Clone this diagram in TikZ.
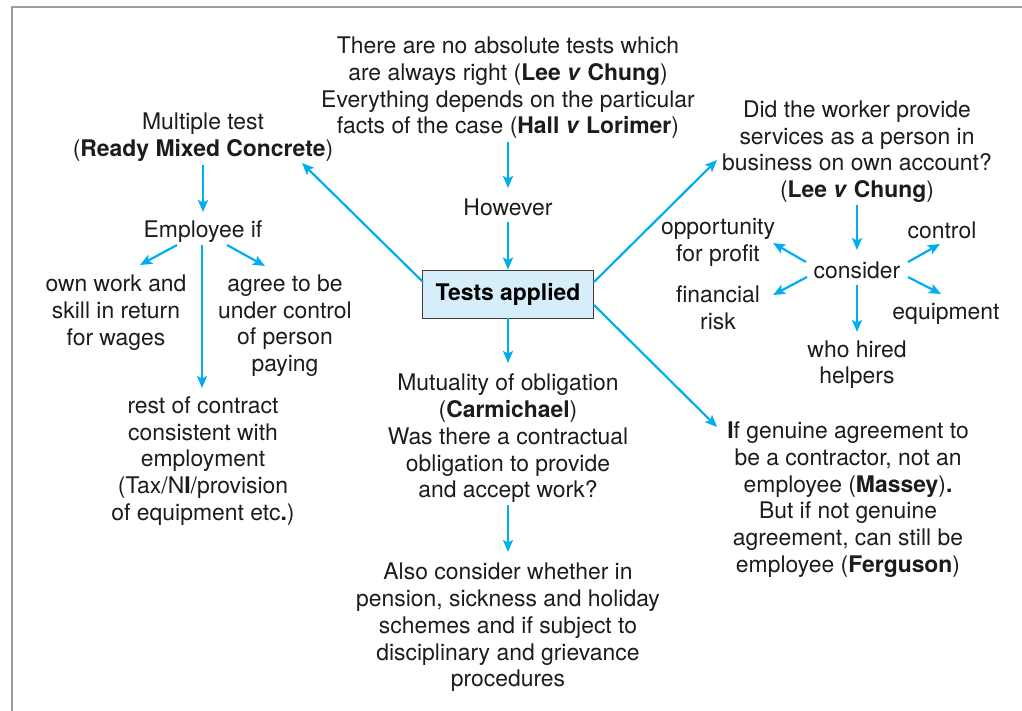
\documentclass[tikz,border=0pt]{standalone}
\usepackage{fontspec}
\setmainfont{TeX Gyre Heros}
\usetikzlibrary{arrows.meta,calc}
\definecolor{arr}{HTML}{00AEEF}
\definecolor{txt}{HTML}{1E1B1C}
\definecolor{boxfill}{HTML}{D6EEF9}
\definecolor{framegray}{HTML}{9D9D9D}
\newcommand{\casename}[1]{\textbf{#1}}
\begin{document}
\begin{tikzpicture}[x=1pt,y=-1pt,
  lbl/.style={align=center,text=txt,inner sep=0pt,font=\fontsize{22.9}{26.7}\selectfont},
  conn/.style={draw=arr,line width=2.2pt,-{Stealth[length=12pt,width=10pt,inset=2.5pt]}},
  keybox/.style={draw=txt!85,fill=boxfill,line width=0.9pt,minimum width=171pt,minimum height=48pt,inner sep=2pt,font=\fontsize{22.9}{26.7}\selectfont\bfseries}
]
\useasboundingbox (0,0) rectangle (1022,711);
\draw[framegray,line width=2.8pt] (12,711) -- (12,7) -- (1022,7);

% centre column
\node[lbl] (top) at (508,88) {There are no absolute tests which\\are always right (\casename{Lee \textit{v} Chung})\\Everything depends on the particular\\facts of the case (\casename{Hall \textit{v} Lorimer})};
\node[lbl] (how) at (508,207) {However};
\node[keybox] (box) at (508,294) {\raisebox{-2pt}{Tests applied}};
\node[lbl] (mut) at (508,438.5) {Mutuality of obligation\\(\casename{Carmichael})\\Was there a contractual\\obligation to provide\\and accept work?};
\node[lbl] (also) at (508,627.5) {Also consider whether in\\pension, sickness and holiday\\schemes and if subject to\\disciplinary and grievance\\procedures};

% left branch
\node[lbl] (mt) at (203,137) {Multiple test\\(\casename{Ready Mixed Concrete})};
\node[lbl] (emp) at (203,232) {Employee if};
\node[lbl] (own) at (116,312.5) {own work and\\skill in return\\for wages};
\node[lbl] (agr) at (285,325.5) {agree to be\\under control\\of person\\paying};
\node[lbl] (rest) at (203,461) {rest of contract\\consistent with\\employment\\(Tax/N\textbf{I}/provision\\of equipment etc\textbf{.})};

% right branch
\node[lbl] (did) at (857,151.5) {Did the worker provide\\services as a person in\\business on own account?\\(\casename{Lee \textit{v} Chung})};
\node[lbl] (con) at (857,270) {consider};
\node[lbl] (opp) at (718,242.5) {opportunity\\for profit};
\node[lbl] (fin) at (718,308) {financial\\risk};
\node[lbl] (ctl) at (942,230) {control};
\node[lbl] (eqp) at (946,314) {equipment};
\node[lbl] (who) at (857,364.5) {who hired\\helpers};
\node[lbl] (ifg) at (848,499.5) {\textbf{I}f genuine agreement to\\be a contractor, not an\\employee (\casename{Massey})\textbf{.}\\But if not genuine\\agreement, can still be\\employee (\casename{Ferguson})};

% connectors: centre
\draw[conn] ($(top)+(0,54)$) -- ($(how)+(0,-19)$);
\draw[conn] ($(how)+(0,15)$) -- (box.north);
\draw[conn] (box.south) -- ($(mut)+(0,-75.5)$);
\draw[conn] ($(mut)+(0,66.5)$) -- ($(also)+(0,-75.5)$);

% connectors: diagonals from box
\draw[conn] ($(box)+(-85,-12)$) -- ($(mt)+(99,26)$);
\draw[conn] ($(box)+(86,-12)$) -- ($(did)+(-140,8.5)$);
\draw[conn] ($(box)+(86,11)$) -- ($(ifg)+(-131,-72.5)$);

% connectors: left
\draw[conn] ($(mt)+(0,28)$) -- ($(emp)+(0,-20)$);
\draw[conn] ($(emp)+(-26,13)$) -- ($(own)+(24,-47.5)$);
\draw[conn] ($(emp)+(24,13)$) -- ($(agr)+(-20,-59.5)$);
\draw[conn] ($(emp)+(-1,13)$) -- ($(rest)+(-1,-73)$);

% connectors: right
\draw[conn] ($(did)+(0,53.5)$) -- ($(con)+(0,-20)$);
\draw[conn] ($(con)+(-51,-8)$) -- ($(opp)+(55,0.5)$);
\draw[conn] ($(con)+(-50,7)$) -- ($(fin)+(55,-13)$);
\draw[conn] ($(con)+(51,-8)$) -- ($(ctl)+(-2,14)$);
\draw[conn] ($(con)+(51,7)$) -- ($(eqp)+(-5,-20)$);
\draw[conn] ($(con)+(0,15)$) -- ($(who)+(0,-32.5)$);
\end{tikzpicture}
\end{document}
